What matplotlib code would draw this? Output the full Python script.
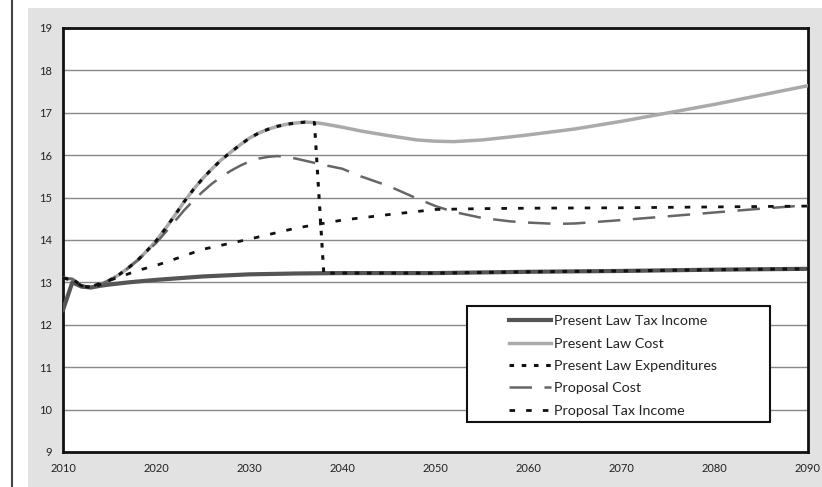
import matplotlib.pyplot as plt
import numpy as np
from matplotlib.lines import Line2D
from matplotlib.patches import Rectangle

plt.rcParams['font.family'] = ['Lato', 'DejaVu Sans']

# Present law cost (light gray)
cost_years = [2010, 2011, 2012, 2013, 2014, 2015, 2016, 2017, 2018, 2019, 2020,
              2021, 2022, 2023, 2024, 2025, 2026, 2027, 2028, 2029, 2030, 2031,
              2032, 2033, 2034, 2035, 2036, 2037, 2038, 2040, 2042, 2045, 2048,
              2050, 2052, 2055, 2058, 2060, 2065, 2070, 2075, 2080, 2085, 2090]
cost = [13.1, 13.08, 12.92, 12.88, 12.95, 13.05, 13.18, 13.34, 13.52, 13.74, 13.98,
        14.27, 14.58, 14.9, 15.19, 15.45, 15.68, 15.89, 16.07, 16.24, 16.4, 16.52,
        16.61, 16.68, 16.73, 16.76, 16.78, 16.77, 16.74, 16.66, 16.57, 16.46, 16.36,
        16.33, 16.32, 16.36, 16.43, 16.48, 16.62, 16.8, 17.0, 17.2, 17.42, 17.64]

# Present law tax income
tax_years = [2010, 2011, 2012, 2013, 2014, 2015, 2017, 2020, 2025, 2030, 2035,
             2040, 2050, 2060, 2070, 2080, 2090]
tax = [12.35, 13.0, 12.9, 12.88, 12.92, 12.95, 13.0, 13.06, 13.14, 13.19, 13.21,
       13.22, 13.22, 13.25, 13.27, 13.3, 13.32]

# Present law expenditures: cost until 2037, then drop to tax income
exp_years = cost_years[:28] + [2038, 2040, 2050, 2060, 2070, 2080, 2090]
exp = cost[:28] + [13.22, 13.22, 13.22, 13.25, 13.27, 13.3, 13.32]

# Proposal cost
pcost_years = [2010, 2011, 2012, 2013, 2014, 2015, 2016, 2017, 2018, 2019, 2020,
               2021, 2022, 2023, 2024, 2025, 2026, 2027, 2028, 2029, 2030, 2031,
               2032, 2033, 2034, 2035, 2036, 2037, 2038, 2040, 2042, 2045, 2048,
               2050, 2052, 2055, 2058, 2060, 2063, 2065, 2070, 2075, 2080, 2085, 2090]
pcost = [13.1, 13.08, 12.92, 12.88, 12.95, 13.05, 13.18, 13.34, 13.52, 13.72, 13.93,
         14.18, 14.44, 14.7, 14.93, 15.14, 15.33, 15.49, 15.63, 15.75, 15.85, 15.92,
         15.96, 15.98, 15.96, 15.92, 15.87, 15.82, 15.77, 15.68, 15.5, 15.27, 14.98,
         14.8, 14.66, 14.52, 14.44, 14.41, 14.38, 14.39, 14.47, 14.56, 14.65, 14.74, 14.82]

# Proposal tax income
ptax_years = [2010, 2011, 2012, 2013, 2014, 2015, 2016, 2017, 2018, 2020, 2022,
              2025, 2030, 2035, 2040, 2045, 2050, 2055, 2060, 2070, 2080, 2090]
ptax = [13.1, 13.05, 12.92, 12.9, 12.98, 13.05, 13.12, 13.2, 13.28, 13.4, 13.55,
        13.78, 14.02, 14.28, 14.47, 14.6, 14.72, 14.74, 14.75, 14.76, 14.78, 14.8]

fig = plt.figure(figsize=(8.22, 4.87), dpi=100)
fig.patch.set_facecolor('white')
# gray chart background and page edge line
fig.add_artist(Rectangle((28 / 822, 0), 1 - 28 / 822, 1 - 8 / 487,
                         transform=fig.transFigure, facecolor='#e2e2e2',
                         edgecolor='none', zorder=-10))
fig.add_artist(Line2D([12 / 822, 12 / 822], [0, 1], transform=fig.transFigure,
                      color='#444444', lw=1.5))

ax = fig.add_axes([63 / 822, 35 / 487, 745 / 822, 424 / 487])
ax.set_facecolor('white')

ax.plot(cost_years, cost, color='#aaaaaa', lw=2.5, label='Present Law Cost', zorder=3)
ax.plot(tax_years, tax, color='#555555', lw=3, label='Present Law Tax Income', zorder=4)
ax.plot(pcost_years, pcost, color='#666666', lw=1.8, dashes=(9, 5),
        label='Proposal Cost', zorder=5)
ax.plot(ptax_years, ptax, color='#111111', lw=2, dashes=(2, 4),
        label='Proposal Tax Income', zorder=6)
ax.plot(exp_years, exp, color='#111111', lw=2.2, dashes=(1.5, 2.5),
        label='Present Law Expenditures', zorder=7)

ax.set_xlim(2010, 2090)
ax.set_ylim(9, 19)
ax.set_xticks(np.arange(2010, 2091, 10))
ax.set_yticks(np.arange(9, 20, 1))
ax.tick_params(labelsize=8, length=0, pad=8, colors='#222222')
ax.grid(axis='y', color='#888888', lw=1)
ax.set_axisbelow(True)
for s in ax.spines.values():
    s.set_linewidth(2)
    s.set_color('#111111')

# legend box drawn separately so the entries can sit right of its left edge
ax.add_patch(Rectangle((0.542, 0.071), 0.407, 0.274, transform=ax.transAxes,
                       facecolor='white', edgecolor='#111111', lw=1.5, zorder=10))
h, l = ax.get_legend_handles_labels()
order = ['Present Law Tax Income', 'Present Law Cost', 'Present Law Expenditures',
         'Proposal Cost', 'Proposal Tax Income']
handles = [h[l.index(o)] for o in order]
leg = ax.legend(handles, order, loc='upper left', bbox_to_anchor=(0.598, 0.322),
                fontsize=10.3, frameon=False, handlelength=3.0, handletextpad=0.15,
                borderpad=0, labelspacing=0.72, borderaxespad=0)
leg.set_zorder(11)
for t in leg.get_texts():
    t.set_color('#222222')

plt.savefig('out.png', dpi=100)
